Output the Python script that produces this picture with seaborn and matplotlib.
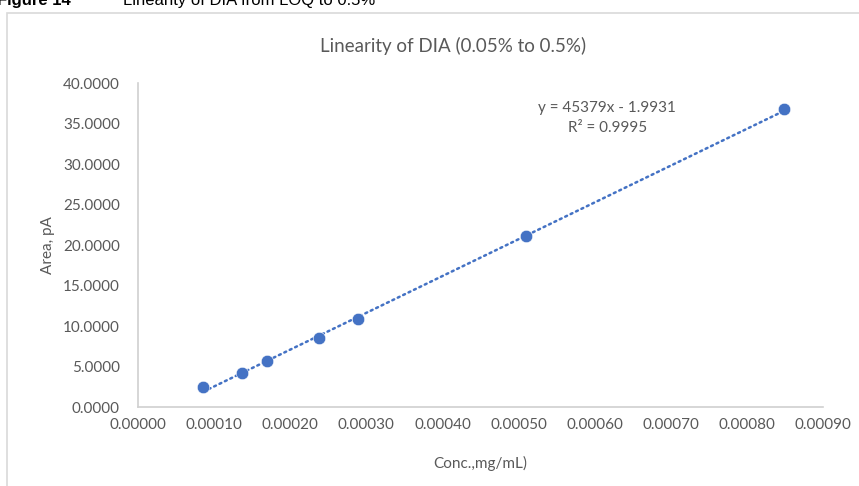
import numpy as np
import seaborn as sns
import matplotlib.pyplot as plt
from matplotlib.patches import Rectangle
from matplotlib.ticker import FormatStrFormatter

# Datos
conc = [0.0000858, 0.000137, 0.000170, 0.000238, 0.000289, 0.000510, 0.000849]
area = [2.43, 4.23, 5.64, 8.52, 10.83, 21.1, 36.75]
ecuacion = "y = 45379x - 1.9931"
r2 = "R² = 0.9995"

azul = "#4472C4"
gris = "#595959"
linea = "#D0D0D0"

sns.set_theme(style="white")
plt.rcParams['font.family'] = ['Lato', 'DejaVu Sans']

fig = plt.figure(figsize=(8.59, 4.86), dpi=100)
ax = fig.add_axes([138/859, 1-407/486, (823-138)/859, (407-83)/486])

# marco del grafico (recortado a la derecha y abajo)
fig.patches.append(Rectangle((7/859, -0.1), 1.2, 1-13/486+0.1, transform=fig.transFigure,
                             fill=False, edgecolor="#D9D9D9", lw=1.2))

# pie de figura cortado arriba
fig.text(-3/859, 1-5/486, "Figure 14", fontsize=12, fontweight='bold', family=['Liberation Sans'],
         color='black', va='baseline', ha='left')
fig.text(123/859, 1-5/486, "Linearity of DIA from LOQ to 0.5%", fontsize=12,
         family=['Liberation Sans'], color='black', va='baseline', ha='left')

sns.regplot(x=conc, y=area, ax=ax, scatter=False, ci=None, truncate=True,
            line_kws=dict(color=azul, lw=1.8, ls=(0, (0.8, 1.6)), dash_capstyle='round'))
sns.scatterplot(x=conc, y=area, ax=ax, color=azul, s=80, edgecolor='white', linewidth=0.4, zorder=3)

ax.set_xlim(0, 0.0009)
ax.set_ylim(0, 40)
ax.set_xticks(np.arange(0, 0.00091, 0.0001))
ax.set_yticks(np.arange(0, 41, 5))
ax.xaxis.set_major_formatter(FormatStrFormatter('%.5f'))
ax.yaxis.set_major_formatter(FormatStrFormatter('%.4f'))
ax.tick_params(axis='both', length=0, labelsize=11, labelcolor=gris)
ax.tick_params(axis='y', pad=13)
ax.tick_params(axis='x', pad=8)

for s in ['top', 'right']:
    ax.spines[s].set_visible(False)
for s in ['left', 'bottom']:
    ax.spines[s].set_color(linea)
    ax.spines[s].set_linewidth(1.2)

ax.set_xlabel("Conc.,mg/mL)", fontsize=11, color=gris, labelpad=17)
ax.set_ylabel("Area, pA", fontsize=11, color=gris, labelpad=6)

fig.text(453/859, 1-46/486, "Linearity of DIA (0.05% to 0.5%)", fontsize=13.5, color=gris,
         ha='center', va='center')

ax.text(0.000616, 36.9, ecuacion, fontsize=11, color=gris, ha='center', va='center')
ax.text(0.000617, 34.4, r2, fontsize=11, color=gris, ha='center', va='center')

plt.savefig("out.png", dpi=100)
